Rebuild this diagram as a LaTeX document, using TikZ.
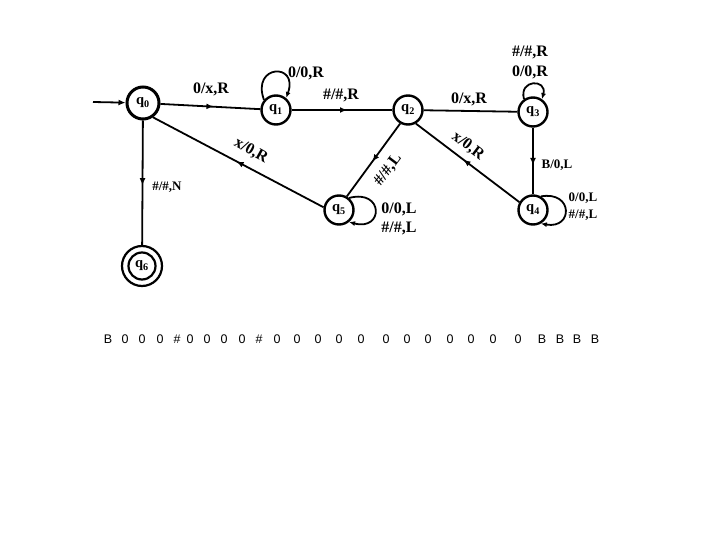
\documentclass[tikz,border=0pt]{standalone}
\usepackage{fontspec}
\setmainfont{Liberation Serif}
\newfontfamily\tapefont{Liberation Sans}
\usetikzlibrary{arrows.meta,decorations.markings}
\begin{document}
\begin{tikzpicture}[x=1pt,y=1pt,
  st/.style={circle,draw,line width=2.4pt,minimum size=29pt,inner sep=0pt,font=\fontsize{14.5}{14.5}\selectfont\bfseries},
  conn/.style={line width=1.8pt},
  midarrow/.style={postaction={decorate},decoration={markings,mark=at position #1 with {\arrow{Latex[length=7pt,width=6pt]}}}},
  midarrow/.default=0.5,
  lbl/.style={font=\fontsize{16}{16}\selectfont\bfseries,inner sep=0pt},
  slbl/.style={font=\fontsize{13}{13}\selectfont\bfseries,inner sep=0pt},
  tape/.style={font=\tapefont\fontsize{12.5}{12.5}\selectfont,inner sep=0pt},
  loopar/.style={line width=1.8pt,-{Latex[length=6pt,width=5pt]}}
]
\useasboundingbox (0,0) rectangle (720,-540);

% states
\node[st,minimum size=32pt,line width=3pt] (q0) at (143,-103) {q\textsubscript{0}};
\node[st] (q1) at (276,-110) {q\textsubscript{1}};
\node[st] (q2) at (408,-110) {q\textsubscript{2}};
\node[st] (q3) at (533,-112) {q\textsubscript{3}};
\node[st] (q4) at (533,-210) {q\textsubscript{4}};
\node[st] (q5) at (339,-210) {q\textsubscript{5}};
\node[st,minimum size=40pt,line width=2.2pt] (q6) at (142,-266) {};
\node[st,minimum size=27pt,line width=2.2pt] (q6in) at (q6) {q\textsubscript{6}};

% initial arrow
\coordinate (init) at (93,-102);
\draw[conn,-{Latex[length=7pt,width=6pt]}] (init) -- (q0);

% transitions
\draw[conn,midarrow=0.53] (q0) -- (q1);
\draw[conn,midarrow=0.55] (q1) -- (q2);
\draw[conn] (q2) -- (q3);
\draw[conn,midarrow=0.56] (q3) -- (q4);
\draw[conn,midarrow=0.52] (q0) -- (q6);
\draw[conn,midarrow=0.52] (q2.-120) -- (q5.60);
\draw[conn,midarrow=0.54] (q4.150) -- (q2.-60);
\draw[conn,midarrow=0.51] (q5.170) -- (q0.-55);

% loops
\draw[loopar] (q1.140) .. controls +(110:38) and +(70:38) .. (q1.50);
\draw[loopar] (q3.125) .. controls +(105:21) and +(75:21) .. (q3.55);
\draw[loopar] (q4.60) .. controls +(10:33) and +(-10:33) .. (q4.-60);
\draw[loopar] (q5.50) .. controls +(15:36) and +(-15:36) .. (q5.-50);

% labels
\node[lbl] (l01) at (211,-89) {0/x,R};
\node[lbl] (l11) at (306,-73) {0/0,R};
\node[lbl] (l12) at (341,-95) {\#/\#,R};
\node[lbl] (l23) at (469,-99) {0/x,R};
\node[lbl] (l33a) at (530,-52) {\#/\#,R};
\node[lbl] (l33b) at (530,-72) {0/0,R};
\node[slbl] (l34) at (557,-165) {B/0,L};
\node[slbl] (l44a) at (583,-198) {0/0,L};
\node[slbl] (l44b) at (583,-215) {\#/\#,L};
\node[lbl] (l55a) at (399,-209) {0/0,L};
\node[lbl] (l55b) at (399,-228) {\#/\#,L};
\node[slbl] (l06) at (167,-187) {\#/\#,N};
\node[lbl,rotate=-29] (l50) at (251,-151) {x/0,R};
\node[lbl,rotate=-37] (l42) at (468,-146) {x/0,R};
\node[lbl,rotate=53] (l25) at (388,-170) {\#/\#,L};

% tape
\foreach \x/\c [count=\i] in {108/B,125/0,142/0,160/0,177/\#,190/0,207/0,224/0,242/0,259/\#,277/0,297/0,318/0,339/0,361/0,386/0,407/0,428/0,450/0,471/0,493/0,518/0,542/B,560/B,577/B,595/B}
  \node[tape] (t\i) at (\x,-339) {\c};
\end{tikzpicture}
\end{document}
